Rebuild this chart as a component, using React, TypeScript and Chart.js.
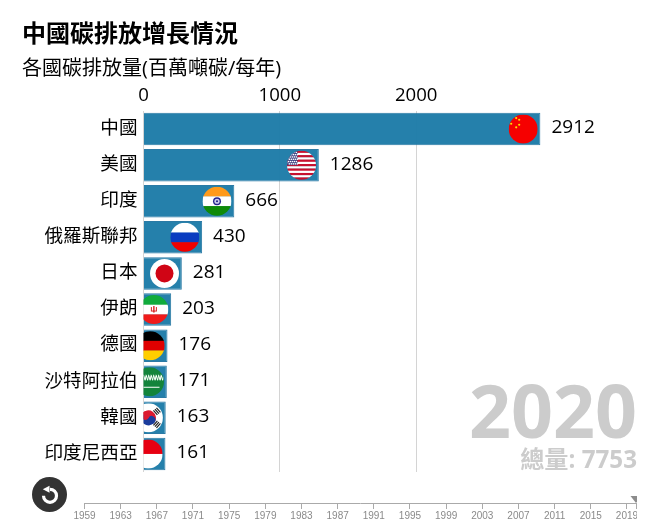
import React, { useEffect, useRef } from "react";
import { Chart, registerables } from "chart.js";

Chart.register(...registerables);

const categories = ["中國", "美國", "印度", "俄羅斯聯邦", "日本", "伊朗", "德國", "沙特阿拉伯", "韓國", "印度尼西亞"];
const emissions = [2912, 1286, 666, 430, 281, 203, 176, 171, 163, 161];
const axisTicks = [0, 1000, 2000];
const axisMax = 2912;
const titleText = "中國碳排放增長情況";
const subtitleText = "各國碳排放量(百萬噸碳/每年)";
const currentYear = 2020;
const totalValue = 7753;
const labelledYears = [1959, 1963, 1967, 1971, 1975, 1979, 1983, 1987, 1991, 1995, 1999, 2003, 2007, 2011, 2015, 2019, 2020];
const allYears = [1959, 1960, 1961, 1962, 1963, 1964, 1965, 1966, 1967, 1968, 1969, 1970, 1971, 1972, 1973, 1974, 1975, 1976, 1977, 1978, 1979, 1980, 1981, 1982, 1983, 1984, 1985, 1986, 1987, 1988, 1989, 1990, 1991, 1992, 1993, 1994, 1995, 1996, 1997, 1998, 1999, 2000, 2001, 2002, 2003, 2004, 2005, 2006, 2007, 2008, 2009, 2010, 2011, 2012, 2013, 2014, 2015, 2016, 2017, 2018, 2019, 2020];

const FONT = '"Open Sans", "Noto Sans CJK TC", sans-serif';

type Ctx = CanvasRenderingContext2D;

function bands(c: Ctx, cx: number, cy: number, r: number, colors: string[], weights?: number[]) {
  const w = weights || colors.map(() => 1);
  const sum = w.reduce((a, b) => a + b, 0);
  let y = cy - r;
  colors.forEach((col, i) => {
    const h = (2 * r * w[i]) / sum;
    c.fillStyle = col;
    c.fillRect(cx - r, y, 2 * r, h + 0.3);
    y += h;
  });
}

function dot(c: Ctx, x: number, y: number, r: number, col: string) {
  c.fillStyle = col;
  c.beginPath();
  c.arc(x, y, r, 0, Math.PI * 2);
  c.fill();
}

const flags: Record<string, (c: Ctx, x: number, y: number, r: number) => void> = {
  "中國": (c, x, y, r) => {
    bands(c, x, y, r, ["#f60000"]);
    [[-7, -11], [-4, -9.3], [-12, -5.3], [-4, -4.3], [-7, -1.7]].forEach(([a, b]) => dot(c, x + a, y + b, 1.1, "#ffde00"));
  },
  "美國": (c, x, y, r) => {
    const st = ["#c8102e", "#fff"];
    bands(c, x, y, r, Array.from({ length: 13 }, (_, i) => st[i % 2]));
    c.fillStyle = "#3a3f80";
    c.fillRect(x - r, y - r, r * 0.72, r);
    c.fillStyle = "#fff";
    for (let i = 0; i < 5; i++) for (let j = 0; j < 6; j++) c.fillRect(x - r + 0.6 + i * 2 + (j % 2), y - r + 1 + j * 2.3, 1.4, 1.4);
  },
  "印度": (c, x, y, r) => {
    bands(c, x, y, r, ["#ff9a1a", "#fff", "#0f8a08"]);
    dot(c, x, y, 4, "#24248e");
    dot(c, x, y, 2.6, "#cfcfee");
    dot(c, x, y, 1.1, "#24248e");
  },
  "俄羅斯聯邦": (c, x, y, r) => bands(c, x, y, r, ["#fff", "#0a3cc0", "#f00000"]),
  "日本": (c, x, y, r) => {
    bands(c, x, y, r, ["#fff"]);
    dot(c, x, y, r * 0.62, "#d00515");
  },
  "伊朗": (c, x, y, r) => {
    bands(c, x, y, r, ["#10ab3c", "#fff", "#f01a1a"]);
    c.fillStyle = "#d81e1e";
    c.fillRect(x - 0.7, y - 3.5, 1.4, 6.5);
    c.fillRect(x - 3, y - 2.5, 1, 4.5);
    c.fillRect(x + 2, y - 2.5, 1, 4.5);
    c.fillRect(x - 2, y + 1, 4, 1);
  },
  "德國": (c, x, y, r) => bands(c, x, y, r, ["#000", "#e00000", "#ffce00"]),
  "沙特阿拉伯": (c, x, y, r) => {
    bands(c, x, y, r, ["#13843b"]);
    c.strokeStyle = "#fff";
    c.lineWidth = 1;
    c.beginPath();
    for (let i = -6; i < 12; i += 2.5) {
      c.moveTo(x + i, y - 7);
      c.lineTo(x + i + 1.6, y - 1.5);
      c.lineTo(x + i + 2.5, y - 6);
    }
    c.stroke();
    c.beginPath();
    c.moveTo(x - 9, y + 5.5);
    c.lineTo(x + 10, y + 5.5);
    c.stroke();
  },
  "韓國": (c, x, y, r) => {
    bands(c, x, y, r, ["#fff"]);
    const t = r * 0.52;
    c.save();
    c.translate(x, y);
    c.rotate(0.6);
    c.fillStyle = "#dc1a30";
    c.beginPath();
    c.arc(0, 0, t, Math.PI, 0);
    c.fill();
    c.fillStyle = "#1a3c9c";
    c.beginPath();
    c.arc(0, 0, t, 0, Math.PI);
    c.fill();
    dot(c, t / 2, 0, t / 2 + 0.2, "#1a3c9c");
    dot(c, -t / 2, 0, t / 2 + 0.2, "#dc1a30");
    c.restore();
    c.strokeStyle = "#222";
    c.lineWidth = 1.2;
    [[8.5, -6.5], [8.5, 6.5]].forEach(([a, b]) => {
      c.save();
      c.translate(x + a, y + b);
      c.rotate(b < 0 ? 0.85 : -0.85);
      c.beginPath();
      for (let k = -1; k <= 1; k++) {
        c.moveTo(-3, k * 2);
        c.lineTo(3, k * 2);
      }
      c.stroke();
      c.restore();
    });
  },
  "印度尼西亞": (c, x, y, r) => bands(c, x, y, r, ["#e70011", "#fff"]),
};

const barDecorations = {
  id: "barDecorations",
  afterDatasetsDraw(chart: any) {
    const { ctx, chartArea, scales } = chart;
    const x = scales.x;
    const y = scales.y;
    const radius = 14.5;
    emissions.forEach((v, i) => {
      const px = x.getPixelForValue(v);
      const py = y.getPixelForValue(i);
      ctx.save();
      ctx.beginPath();
      ctx.rect(chartArea.left, chartArea.top, chartArea.right - chartArea.left, chartArea.bottom - chartArea.top);
      ctx.clip();
      ctx.beginPath();
      ctx.arc(px - 17.3, py, radius, 0, Math.PI * 2);
      ctx.clip();
      flags[categories[i]](ctx, px - 17.3, py, radius);
      ctx.restore();
      ctx.save();
      ctx.fillStyle = "#000";
      ctx.font = `19px ${FONT}`;
      ctx.textAlign = "left";
      ctx.textBaseline = "middle";
      ctx.fillText(String(v), px + 11, py - 1);
      ctx.restore();
    });
    ctx.save();
    ctx.textAlign = "right";
    ctx.textBaseline = "alphabetic";
    ctx.fillStyle = "#cccccc";
    ctx.font = `bold 73.5px ${FONT}`;
    ctx.fillText(String(currentYear), 637, 438);
    ctx.font = `bold 24.2px ${FONT}`;
    ctx.fillText(`總量: ${totalValue}`, 637, 468);
    ctx.restore();
  },
};

const playhead = {
  id: "playhead",
  afterDraw(chart: any) {
    const { ctx, scales } = chart;
    const px = scales.x.getPixelForValue(currentYear);
    const top = scales.x.top;
    ctx.save();
    ctx.fillStyle = "#8c8c8c";
    ctx.beginPath();
    ctx.moveTo(px - 5.5, top - 7);
    ctx.lineTo(px + 5.5, top - 7);
    ctx.lineTo(px, top);
    ctx.closePath();
    ctx.fill();
    ctx.restore();
  },
};

export default function App() {
  const mainRef = useRef<HTMLCanvasElement>(null);
  const timeRef = useRef<HTMLCanvasElement>(null);

  useEffect(() => {
    const main = new Chart(mainRef.current as HTMLCanvasElement, {
      type: "bar",
      data: {
        labels: categories,
        datasets: [
          {
            data: emissions,
            backgroundColor: "rgba(30,124,168,0.97)",
            borderColor: "rgba(20,108,155,0.9)",
            borderWidth: 1,
            barPercentage: 0.9,
            categoryPercentage: 1,
          },
        ],
      },
      options: {
        indexAxis: "y",
        animation: false,
        responsive: false,
        layout: { autoPadding: false, padding: { left: 22, right: 104.5, top: 21, bottom: 49 } },
        plugins: {
          legend: { display: false },
          tooltip: { enabled: false },
          title: {
            display: true,
            text: titleText,
            align: "start",
            color: "#000",
            font: { family: FONT, size: 24, weight: "bold", lineHeight: 1.2 },
            padding: { top: 0, bottom: 7 },
          },
          subtitle: {
            display: true,
            text: subtitleText,
            align: "start",
            color: "#000",
            font: { family: FONT, size: 20, lineHeight: 1.2 },
            padding: { top: 0, bottom: 0 },
          },
        },
        scales: {
          x: {
            type: "linear",
            position: "top",
            min: 0,
            max: axisMax,
            afterBuildTicks(s: any) {
              s.ticks = axisTicks.map((value) => ({ value }));
            },
            afterFit(s: any) {
              s.height = 30.2;
            },
            border: { display: false },
            grid: { color: "#d4d4d4", drawTicks: false },
            ticks: {
              color: "#000",
              font: { family: FONT, size: 18.6 },
              padding: 4,
              maxRotation: 0,
              autoSkip: false,
              callback: (v: number) => String(v),
            },
          },
          y: {
            type: "category",
            afterFit(s: any) {
              s.width = 121.5;
            },
            border: { display: false },
            grid: { display: false, drawTicks: false },
            ticks: { color: "#000", font: { family: FONT, size: 18.6 }, padding: 6, autoSkip: false, labelOffset: -0.5 },
          },
        },
      },
      plugins: [barDecorations],
    } as any);

    const time = new Chart(timeRef.current as HTMLCanvasElement, {
      type: "line",
      data: { datasets: [] },
      options: {
        animation: false,
        responsive: false,
        layout: { autoPadding: false, padding: { left: 84.5, right: 0, top: 0, bottom: 0 } },
        plugins: { legend: { display: false }, tooltip: { enabled: false } },
        scales: {
          y: { display: false },
          x: {
            type: "linear",
            position: "bottom",
            offset: false,
            min: allYears[0],
            max: currentYear,
            afterBuildTicks(s: any) {
              s.ticks = labelledYears.map((value) => ({ value }));
            },
            afterFit(s: any) {
              s.height = 18;
            },
            border: { display: true, color: "#aaaaaa" },
            grid: { drawOnChartArea: false, offset: false, color: "#aaaaaa", tickLength: 6 },
            ticks: {
              color: "#8a8a8a",
              font: { family: '"Liberation Sans", Arial, sans-serif', size: 10 },
              padding: 1,
              maxRotation: 0,
              autoSkip: false,
              callback: (v: number) => (v === currentYear ? "" : String(v)),
            },
          },
          minor: {
            type: "linear",
            axis: "x",
            position: "bottom",
            offset: false,
            min: allYears[0],
            max: currentYear,
            afterBuildTicks(s: any) {
              s.ticks = allYears.map((value) => ({ value }));
            },
            afterFit(s: any) {
              s.height = 0;
            },
            border: { display: false },
            grid: { drawOnChartArea: false, offset: false, color: "#c4c4c4", tickLength: 3 },
            ticks: { display: false, autoSkip: false },
          },
        },
      },
      plugins: [playhead],
    } as any);

    return () => {
      main.destroy();
      time.destroy();
    };
  }, []);

  return (
    <div style={{ position: "fixed", left: 0, top: 0, width: 645, height: 521, background: "#fff", overflow: "hidden" }}>
      <canvas ref={mainRef} width={645} height={521} style={{ position: "absolute", left: 0, top: 0 }} />
      <canvas ref={timeRef} width={637} height={31} style={{ position: "absolute", left: 0, top: 490 }} />
      <svg width={35} height={35} viewBox="0 0 35 35" style={{ position: "absolute", left: 31.5, top: 476.5 }}>
        <circle cx={17.5} cy={17.5} r={17.5} fill="#333" />
        <path d="M11.5 18.8 A6.5 6.5 0 1 0 18 12.3" fill="none" stroke="#fff" strokeWidth={3.2} />
        <polygon points="10.8,12.3 17.5,8.8 17.5,15.8" fill="#fff" />
      </svg>
    </div>
  );
}
